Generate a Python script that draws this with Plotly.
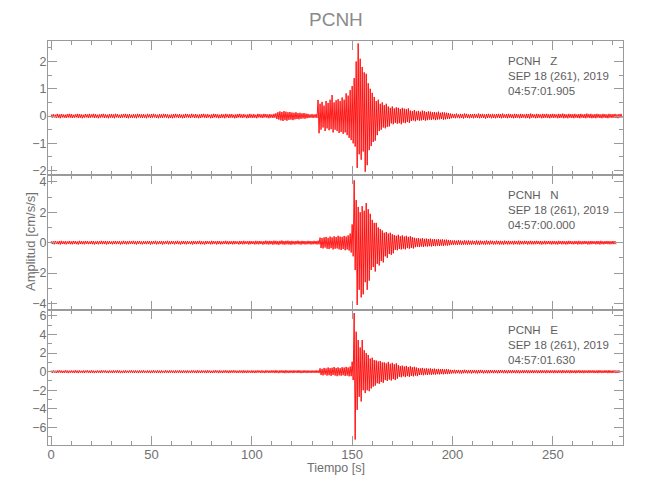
import plotly.graph_objects as go

# ---------------- data (per 1-s bin: upper / lower envelope of trace, cm/s/s) -------------
TIME_STEP = 1.0  # seconds per bin

STATION = "PCNH"
COMPONENTS = ["Z", "N", "E"]
START_TIMES = ["04:57:01.905", "04:57:00.000", "04:57:01.630"]
DATE_LABEL = "SEP 18 (261), 2019"

Z_HI = [
    0.06,0.07,0.05,0.08,0.06,0.07,0.06,0.05,0.07,0.08,
    0.07,0.05,0.06,0.08,0.07,0.06,0.05,0.07,0.06,0.08,
    0.06,0.08,0.07,0.05,0.06,0.07,0.08,0.06,0.05,0.07,
    0.07,0.06,0.08,0.07,0.05,0.06,0.07,0.08,0.06,0.07,
    0.05,0.07,0.06,0.08,0.07,0.06,0.07,0.05,0.08,0.06,
    0.07,0.08,0.06,0.05,0.07,0.06,0.08,0.07,0.06,0.05,
    0.06,0.07,0.08,0.06,0.07,0.05,0.06,0.08,0.07,0.06,
    0.08,0.06,0.07,0.05,0.06,0.07,0.08,0.06,0.07,0.05,
    0.06,0.08,0.07,0.06,0.05,0.07,0.06,0.08,0.06,0.07,
    0.07,0.05,0.06,0.07,0.08,0.06,0.07,0.05,0.06,0.08,
    0.06,0.07,0.05,0.08,0.07,0.06,0.08,0.07,0.06,0.07,
    0.06,0.08,0.10,0.14,0.17,0.15,0.18,0.16,0.14,0.15,
    0.13,0.12,0.14,0.11,0.12,0.10,0.11,0.09,0.08,0.06,
    0.07,0.06,0.07,0.59,0.45,0.52,0.38,0.55,0.48,0.60,
    0.77,0.50,0.58,0.62,0.55,0.68,0.60,0.83,0.75,0.95,
    1.10,1.39,2.00,2.66,2.10,1.80,1.60,1.55,1.20,1.00,
    0.85,0.70,0.55,0.60,0.45,0.50,0.40,0.45,0.35,0.30,
    0.35,0.28,0.32,0.30,0.26,0.30,0.27,0.25,0.28,0.20,
    0.18,0.22,0.17,0.19,0.16,0.20,0.18,0.15,0.17,0.16,
    0.14,0.15,0.13,0.16,0.12,0.14,0.13,0.12,0.11,0.09,
    0.08,0.07,0.09,0.06,0.08,0.07,0.09,0.08,0.06,0.07,
    0.07,0.08,0.06,0.09,0.07,0.08,0.06,0.07,0.08,0.06,
    0.08,0.06,0.07,0.08,0.07,0.09,0.06,0.07,0.08,0.07,
    0.06,0.08,0.07,0.06,0.08,0.07,0.06,0.08,0.07,0.09,
    0.07,0.06,0.08,0.07,0.06,0.08,0.07,0.08,0.06,0.07,
    0.08,0.07,0.06,0.08,0.07,0.09,0.07,0.06,0.08,0.07,
    0.07,0.08,0.06,0.07,0.08,0.06,0.07,0.09,0.07,0.08,
    0.06,0.07,0.08,0.07,0.06,0.08,0.07,0.06,0.08,0.07,
    0.07,0.08,0.06,0.07,0.08,
]
Z_LO = [
    -0.06,-0.05,-0.07,-0.06,-0.08,-0.05,-0.06,-0.07,-0.05,-0.06,
    -0.07,-0.06,-0.05,-0.07,-0.06,-0.08,-0.06,-0.05,-0.07,-0.06,
    -0.05,-0.07,-0.06,-0.08,-0.06,-0.05,-0.07,-0.06,-0.08,-0.06,
    -0.06,-0.08,-0.05,-0.06,-0.07,-0.06,-0.05,-0.07,-0.08,-0.06,
    -0.07,-0.06,-0.08,-0.05,-0.06,-0.07,-0.06,-0.08,-0.05,-0.07,
    -0.06,-0.05,-0.07,-0.08,-0.06,-0.07,-0.05,-0.06,-0.08,-0.07,
    -0.08,-0.06,-0.05,-0.07,-0.06,-0.08,-0.07,-0.05,-0.06,-0.07,
    -0.05,-0.07,-0.06,-0.08,-0.07,-0.05,-0.06,-0.07,-0.05,-0.08,
    -0.07,-0.05,-0.06,-0.08,-0.07,-0.06,-0.08,-0.05,-0.07,-0.06,
    -0.06,-0.08,-0.07,-0.05,-0.06,-0.07,-0.05,-0.08,-0.07,-0.06,
    -0.07,-0.06,-0.08,-0.05,-0.06,-0.07,-0.05,-0.06,-0.08,-0.06,
    -0.07,-0.06,-0.11,-0.13,-0.16,-0.18,-0.15,-0.17,-0.14,-0.13,
    -0.15,-0.12,-0.11,-0.12,-0.10,-0.09,-0.10,-0.08,-0.07,-0.06,
    -0.07,-0.06,-0.07,-0.63,-0.50,-0.42,-0.55,-0.45,-0.52,-0.48,
    -0.60,-0.50,-0.55,-0.62,-0.58,-0.65,-0.60,-0.70,-0.80,-0.88,
    -1.00,-1.12,-1.90,-1.40,-1.60,-1.30,-2.04,-1.80,-1.25,-1.10,
    -0.95,-0.90,-0.70,-0.55,-0.50,-0.42,-0.45,-0.40,-0.38,-0.27,
    -0.30,-0.25,-0.28,-0.26,-0.30,-0.24,-0.26,-0.22,-0.25,-0.18,
    -0.16,-0.19,-0.15,-0.17,-0.16,-0.14,-0.17,-0.15,-0.13,-0.14,
    -0.12,-0.15,-0.13,-0.12,-0.11,-0.13,-0.12,-0.10,-0.11,-0.08,
    -0.07,-0.08,-0.06,-0.08,-0.07,-0.09,-0.06,-0.07,-0.08,-0.06,
    -0.08,-0.06,-0.07,-0.08,-0.06,-0.07,-0.09,-0.07,-0.06,-0.08,
    -0.07,-0.08,-0.06,-0.07,-0.08,-0.06,-0.07,-0.08,-0.06,-0.07,
    -0.08,-0.07,-0.06,-0.08,-0.07,-0.06,-0.08,-0.07,-0.09,-0.06,
    -0.06,-0.08,-0.07,-0.06,-0.08,-0.07,-0.06,-0.07,-0.08,-0.06,
    -0.07,-0.06,-0.08,-0.07,-0.06,-0.08,-0.07,-0.08,-0.06,-0.07,
    -0.08,-0.06,-0.07,-0.08,-0.06,-0.07,-0.08,-0.06,-0.07,-0.08,
    -0.07,-0.08,-0.06,-0.07,-0.08,-0.06,-0.07,-0.08,-0.06,-0.07,
    -0.06,-0.07,-0.08,-0.06,-0.07,
]

N_HI = [
    0.10,0.09,0.11,0.08,0.10,0.12,0.09,0.10,0.08,0.11,
    0.09,0.11,0.10,0.08,0.12,0.10,0.09,0.11,0.10,0.08,
    0.11,0.10,0.08,0.10,0.09,0.12,0.10,0.11,0.09,0.10,
    0.08,0.10,0.11,0.09,0.10,0.08,0.12,0.10,0.09,0.11,
    0.10,0.12,0.09,0.10,0.11,0.08,0.10,0.09,0.11,0.10,
    0.09,0.10,0.12,0.08,0.10,0.11,0.09,0.10,0.12,0.09,
    0.11,0.09,0.10,0.12,0.08,0.10,0.11,0.09,0.10,0.08,
    0.10,0.11,0.09,0.10,0.12,0.09,0.08,0.11,0.10,0.09,
    0.12,0.10,0.09,0.11,0.10,0.08,0.10,0.12,0.09,0.10,
    0.09,0.11,0.10,0.08,0.11,0.10,0.12,0.09,0.10,0.11,
    0.10,0.09,0.12,0.10,0.11,0.09,0.10,0.13,0.11,0.12,
    0.11,0.13,0.12,0.10,0.12,0.14,0.11,0.12,0.13,0.11,
    0.12,0.10,0.11,0.13,0.10,0.12,0.11,0.10,0.12,0.11,
    0.10,0.12,0.11,0.13,0.33,0.30,0.35,0.38,0.32,0.40,
    0.35,0.42,0.37,0.45,0.40,0.38,0.44,0.40,0.48,0.60,
    1.20,4.10,2.80,2.35,2.00,2.40,2.10,2.60,2.20,1.90,
    1.50,1.30,1.30,1.00,0.90,0.80,0.65,0.70,0.60,0.65,
    0.55,0.50,0.45,0.52,0.42,0.48,0.40,0.45,0.38,0.42,
    0.36,0.32,0.28,0.30,0.26,0.29,0.25,0.27,0.24,0.26,
    0.22,0.24,0.21,0.23,0.20,0.22,0.19,0.20,0.18,0.16,
    0.14,0.15,0.13,0.16,0.14,0.12,0.15,0.13,0.14,0.12,
    0.13,0.11,0.14,0.12,0.13,0.11,0.12,0.14,0.11,0.13,
    0.12,0.10,0.13,0.11,0.12,0.10,0.13,0.11,0.12,0.10,
    0.11,0.12,0.10,0.13,0.11,0.10,0.12,0.11,0.10,0.12,
    0.10,0.11,0.12,0.10,0.11,0.09,0.12,0.10,0.11,0.10,
    0.11,0.10,0.09,0.12,0.10,0.11,0.09,0.10,0.12,0.10,
    0.09,0.11,0.10,0.12,0.09,0.10,0.11,0.09,0.10,0.11,
    0.10,0.09,0.11,0.10,0.12,0.09,0.10,0.11,0.10,0.09,
    0.11,0.10,
]
N_LO = [
    -0.09,-0.11,-0.08,-0.10,-0.12,-0.09,-0.10,-0.11,-0.08,-0.10,
    -0.11,-0.08,-0.10,-0.12,-0.09,-0.10,-0.11,-0.08,-0.10,-0.09,
    -0.10,-0.12,-0.09,-0.11,-0.08,-0.10,-0.09,-0.12,-0.10,-0.08,
    -0.11,-0.09,-0.10,-0.08,-0.12,-0.10,-0.09,-0.11,-0.10,-0.08,
    -0.09,-0.10,-0.12,-0.08,-0.10,-0.11,-0.09,-0.10,-0.08,-0.12,
    -0.10,-0.08,-0.11,-0.10,-0.09,-0.12,-0.10,-0.08,-0.11,-0.10,
    -0.08,-0.11,-0.09,-0.10,-0.12,-0.09,-0.10,-0.11,-0.08,-0.10,
    -0.12,-0.09,-0.10,-0.08,-0.11,-0.10,-0.12,-0.09,-0.08,-0.11,
    -0.10,-0.08,-0.12,-0.09,-0.11,-0.10,-0.08,-0.10,-0.11,-0.09,
    -0.11,-0.10,-0.08,-0.12,-0.09,-0.11,-0.10,-0.08,-0.12,-0.10,
    -0.09,-0.12,-0.10,-0.11,-0.09,-0.13,-0.10,-0.11,-0.12,-0.10,
    -0.13,-0.11,-0.12,-0.14,-0.10,-0.12,-0.13,-0.11,-0.12,-0.14,
    -0.11,-0.12,-0.10,-0.11,-0.13,-0.10,-0.12,-0.11,-0.10,-0.12,
    -0.11,-0.10,-0.12,-0.11,-0.35,-0.38,-0.32,-0.40,-0.42,-0.36,
    -0.45,-0.40,-0.38,-0.44,-0.48,-0.42,-0.50,-0.45,-0.52,-0.65,
    -0.90,-1.80,-4.10,-3.10,-3.60,-3.40,-2.60,-3.10,-2.50,-1.80,
    -1.60,-1.90,-1.40,-1.50,-1.20,-1.30,-0.90,-1.00,-0.75,-0.80,
    -0.70,-0.48,-0.50,-0.42,-0.45,-0.40,-0.44,-0.36,-0.40,-0.35,
    -0.38,-0.30,-0.27,-0.29,-0.25,-0.28,-0.24,-0.26,-0.23,-0.25,
    -0.22,-0.23,-0.20,-0.22,-0.19,-0.21,-0.18,-0.19,-0.17,-0.15,
    -0.14,-0.13,-0.15,-0.12,-0.14,-0.13,-0.12,-0.14,-0.12,-0.13,
    -0.11,-0.13,-0.12,-0.14,-0.11,-0.12,-0.13,-0.11,-0.12,-0.10,
    -0.12,-0.11,-0.10,-0.12,-0.11,-0.13,-0.10,-0.12,-0.11,-0.10,
    -0.12,-0.10,-0.11,-0.12,-0.10,-0.11,-0.09,-0.12,-0.10,-0.11,
    -0.11,-0.10,-0.09,-0.11,-0.12,-0.10,-0.11,-0.09,-0.10,-0.12,
    -0.10,-0.11,-0.12,-0.09,-0.11,-0.10,-0.12,-0.11,-0.09,-0.10,
    -0.11,-0.09,-0.12,-0.10,-0.11,-0.10,-0.09,-0.12,-0.11,-0.10,
    -0.09,-0.11,-0.10,-0.12,-0.10,-0.11,-0.09,-0.10,-0.11,-0.10,
    -0.10,-0.11,
]

E_HI = [
    0.12,0.14,0.11,0.13,0.15,0.12,0.10,0.14,0.13,0.11,
    0.13,0.11,0.15,0.12,0.14,0.10,0.13,0.12,0.15,0.11,
    0.14,0.12,0.10,0.13,0.11,0.15,0.12,0.14,0.10,0.13,
    0.11,0.14,0.12,0.15,0.13,0.10,0.12,0.14,0.11,0.13,
    0.15,0.12,0.13,0.11,0.14,0.12,0.15,0.10,0.13,0.12,
    0.12,0.15,0.11,0.14,0.12,0.13,0.10,0.15,0.12,0.14,
    0.13,0.11,0.14,0.12,0.15,0.11,0.13,0.12,0.14,0.10,
    0.14,0.13,0.12,0.15,0.11,0.14,0.12,0.13,0.15,0.12,
    0.11,0.13,0.15,0.12,0.14,0.11,0.13,0.15,0.12,0.14,
    0.13,0.15,0.12,0.11,0.14,0.13,0.15,0.12,0.14,0.11,
    0.14,0.12,0.13,0.15,0.12,0.14,0.11,0.15,0.13,0.12,
    0.15,0.13,0.16,0.12,0.14,0.15,0.13,0.16,0.12,0.14,
    0.13,0.15,0.12,0.16,0.14,0.12,0.15,0.13,0.14,0.12,
    0.14,0.12,0.15,0.13,0.36,0.30,0.40,0.35,0.45,0.38,
    0.42,0.50,0.40,0.46,0.38,0.48,0.44,0.52,0.45,0.55,
    1.07,6.30,4.30,3.40,2.60,3.40,2.30,2.00,1.80,1.40,
    1.50,1.25,1.20,1.10,1.15,1.00,1.00,0.90,1.05,0.85,
    0.95,0.80,0.90,0.70,0.60,0.65,0.55,0.62,0.50,0.58,
    0.48,0.52,0.45,0.38,0.35,0.40,0.33,0.36,0.32,0.35,
    0.30,0.33,0.28,0.30,0.27,0.29,0.25,0.27,0.24,0.20,
    0.18,0.20,0.17,0.19,0.16,0.18,0.20,0.17,0.15,0.18,
    0.16,0.18,0.15,0.17,0.19,0.16,0.14,0.17,0.15,0.18,
    0.15,0.17,0.14,0.16,0.18,0.15,0.17,0.14,0.16,0.15,
    0.17,0.14,0.16,0.15,0.13,0.17,0.15,0.16,0.14,0.15,
    0.16,0.14,0.15,0.13,0.16,0.15,0.14,0.16,0.13,0.15,
    0.14,0.16,0.13,0.15,0.14,0.17,0.13,0.15,0.14,0.16,
    0.13,0.15,0.14,0.16,0.13,0.15,0.14,0.13,0.16,0.14,
    0.15,0.13,0.14,0.16,0.14,0.13,0.15,0.14,0.16,0.13,
    0.14,0.15,0.13,0.14,
]
E_LO = [
    -0.13,-0.11,-0.14,-0.12,-0.10,-0.14,-0.13,-0.11,-0.15,-0.12,
    -0.11,-0.14,-0.12,-0.15,-0.11,-0.13,-0.14,-0.10,-0.12,-0.14,
    -0.12,-0.15,-0.13,-0.11,-0.14,-0.12,-0.10,-0.13,-0.15,-0.11,
    -0.14,-0.12,-0.11,-0.13,-0.15,-0.12,-0.14,-0.11,-0.13,-0.10,
    -0.12,-0.14,-0.11,-0.15,-0.12,-0.13,-0.11,-0.14,-0.12,-0.15,
    -0.13,-0.11,-0.14,-0.12,-0.15,-0.11,-0.13,-0.12,-0.14,-0.11,
    -0.12,-0.15,-0.11,-0.13,-0.12,-0.14,-0.11,-0.15,-0.12,-0.13,
    -0.11,-0.13,-0.15,-0.12,-0.14,-0.11,-0.13,-0.15,-0.11,-0.14,
    -0.14,-0.12,-0.11,-0.15,-0.12,-0.14,-0.11,-0.13,-0.15,-0.12,
    -0.12,-0.11,-0.14,-0.13,-0.11,-0.15,-0.12,-0.14,-0.11,-0.13,
    -0.13,-0.15,-0.12,-0.11,-0.14,-0.12,-0.15,-0.11,-0.14,-0.13,
    -0.12,-0.15,-0.13,-0.16,-0.12,-0.14,-0.16,-0.13,-0.15,-0.12,
    -0.15,-0.12,-0.14,-0.13,-0.16,-0.14,-0.12,-0.15,-0.13,-0.14,
    -0.12,-0.14,-0.13,-0.15,-0.35,-0.40,-0.32,-0.42,-0.38,-0.45,
    -0.36,-0.42,-0.48,-0.40,-0.44,-0.38,-0.46,-0.42,-0.50,-0.48,
    -0.90,-7.30,-4.10,-2.70,-3.20,-2.00,-2.30,-2.00,-2.10,-1.80,
    -1.60,-1.50,-1.25,-1.30,-1.10,-1.20,-0.90,-1.00,-0.85,-0.95,
    -0.80,-0.90,-0.75,-0.55,-0.60,-0.50,-0.58,-0.48,-0.55,-0.45,
    -0.50,-0.42,-0.48,-0.36,-0.33,-0.38,-0.32,-0.35,-0.30,-0.33,
    -0.29,-0.31,-0.27,-0.29,-0.26,-0.28,-0.24,-0.26,-0.23,-0.20,
    -0.17,-0.19,-0.16,-0.18,-0.20,-0.17,-0.15,-0.18,-0.16,-0.19,
    -0.15,-0.17,-0.19,-0.16,-0.14,-0.18,-0.15,-0.17,-0.16,-0.14,
    -0.16,-0.14,-0.17,-0.15,-0.13,-0.16,-0.15,-0.17,-0.14,-0.16,
    -0.14,-0.16,-0.15,-0.17,-0.14,-0.15,-0.13,-0.16,-0.15,-0.14,
    -0.15,-0.13,-0.16,-0.14,-0.15,-0.13,-0.16,-0.14,-0.15,-0.13,
    -0.16,-0.14,-0.15,-0.13,-0.16,-0.14,-0.15,-0.13,-0.16,-0.14,
    -0.14,-0.16,-0.13,-0.15,-0.14,-0.16,-0.13,-0.15,-0.14,-0.13,
    -0.15,-0.14,-0.16,-0.13,-0.15,-0.14,-0.13,-0.16,-0.14,-0.15,
    -0.13,-0.15,-0.14,-0.13,
]

X_RANGE = [-1.6, 285]
Y_RANGES = [[-2.16, 2.75], [-4.43, 4.45], [-7.88, 6.63]]
Y_DTICK = [1, 2, 2]
Y_MINOR = [0.5, 1, 1]

# ---------------- figure -------------
FONT = "Liberation Sans Narrow, Liberation Sans, Arial, sans-serif"
FRAME = "#9a9a9a"
LABEL = "#707070"

PAGE_OFF = 8                      # default body margin of the html page
W, H = 650 - PAGE_OFF, 500 - PAGE_OFF
# wanted plot-area box on the page
P_LEFT, P_RIGHT, P_TOP, P_BOTTOM = 48, 623.3, 41, 445
M_L = P_LEFT - PAGE_OFF
M_R = W - (P_RIGHT - PAGE_OFF)
M_T = P_TOP - PAGE_OFF
M_B = H - (P_BOTTOM - PAGE_OFF)
plot_w = P_RIGHT - P_LEFT
plot_h = P_BOTTOM - P_TOP


def px(x):
    return (x - P_LEFT) / plot_w


def py(y):
    return (P_BOTTOM - y) / plot_h


panel_px = [134, 135, 135]
tops = []
acc = 0
for p in panel_px:
    tops.append(acc)
    acc += p
domains = []
for top, p in zip(tops, panel_px):
    domains.append([max(0, 1 - (top + p) / plot_h), min(1, 1 - top / plot_h)])


def envelope_trace(hi, lo):
    xs, ys = [], []
    for i, (h, l) in enumerate(zip(hi, lo)):
        t = i * TIME_STEP
        xs += [t, t + TIME_STEP / 2]
        ys += [h, l]
    return xs, ys


fig = go.Figure()
series = [(Z_HI, Z_LO), (N_HI, N_LO), (E_HI, E_LO)]
for k, (hi, lo) in enumerate(series):
    xs, ys = envelope_trace(hi, lo)
    sfx = "" if k == 0 else str(k + 1)
    fig.add_trace(go.Scatter(x=xs, y=ys, mode="lines",
                             line=dict(color="#ff0000", width=0.9),
                             xaxis="x" + sfx, yaxis="y" + sfx,
                             hoverinfo="skip", showlegend=False))

layout = dict(
    width=W, height=H,
    margin=dict(l=M_L, r=M_R, t=M_T, b=M_B, autoexpand=False),
    paper_bgcolor="white", plot_bgcolor="white",
    font=dict(family=FONT, color=LABEL, size=13),
    showlegend=False,
)
for k in range(3):
    sfx = "" if k == 0 else str(k + 1)
    layout["xaxis" + sfx] = dict(
        domain=[0, 1], anchor="y" + sfx, range=X_RANGE,
        showline=True, linecolor=FRAME, linewidth=1, mirror="ticks",
        ticks="inside", ticklen=9, tickcolor=FRAME, tickwidth=1,
        tick0=0, dtick=50,
        minor=dict(dtick=10, ticks="inside", ticklen=4, tickcolor=FRAME),
        showgrid=False, zeroline=False,
        showticklabels=(k == 2), ticklabelstandoff=-3,
        tickfont=dict(size=13, color=LABEL, family=FONT),
    )
    layout["yaxis" + sfx] = dict(
        domain=domains[k], anchor="x" + sfx, range=Y_RANGES[k],
        showline=True, linecolor=FRAME, linewidth=1, mirror="ticks",
        ticks="inside", ticklen=9, tickcolor=FRAME, tickwidth=1,
        tick0=0, dtick=Y_DTICK[k],
        minor=dict(dtick=Y_MINOR[k], ticks="inside", ticklen=4, tickcolor=FRAME),
        showgrid=False, zeroline=False, ticklabelstandoff=-2,
        tickfont=dict(size=12.5, color=LABEL, family=FONT),
    )
fig.update_layout(**layout)

annotations = []
annotations.append(dict(text=STATION, xref="paper", yref="paper", x=0.5,
                        y=py(20), xanchor="center", yanchor="middle",
                        showarrow=False, font=dict(size=19, color="#8a8a8a", family=FONT)))
annotations.append(dict(text="Tiempo [s]", xref="paper", yref="paper", x=0.5,
                        y=py(468), xanchor="center", yanchor="middle",
                        showarrow=False, font=dict(size=12.5, color=LABEL, family=FONT)))
annotations.append(dict(text="Amplitud [cm/s/s]", xref="paper", yref="paper",
                        x=px(30), y=py(242),
                        xanchor="center", yanchor="middle", textangle=-90,
                        showarrow=False, font=dict(size=13, color=LABEL, family=FONT)))
for k, comp in enumerate(COMPONENTS):
    top_px = P_TOP + tops[k] + 11.5
    annotations.append(dict(
        text=f"{STATION}\u00a0\u00a0\u00a0{comp}<br>{DATE_LABEL}<br>{START_TIMES[k]}",
        xref="paper", yref="paper", x=px(506.7),
        y=py(top_px), xanchor="left", yanchor="top", align="left",
        showarrow=False, font=dict(size=11.5, color="#5e5e5e", family=FONT)))
fig.update_layout(annotations=annotations)

fig.write_html("out.html")
